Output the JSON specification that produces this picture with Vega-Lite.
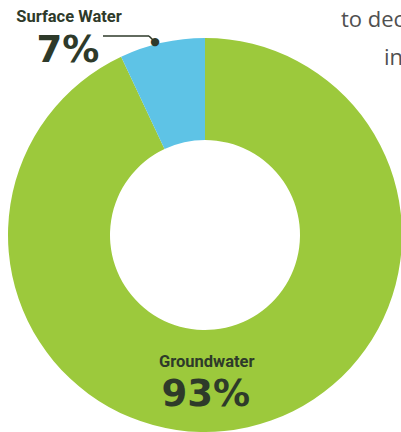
{
  "$schema": "https://vega.github.io/schema/vega-lite/v6.json",
  "width": 394,
  "height": 394,
  "autosize": {"type": "none"},
  "padding": {"left": 8, "top": 38, "right": 0, "bottom": 0},
  "background": "white",
  "view": {"stroke": null},
  "data": {"values": [
    {"source": "Groundwater", "share": 93, "label": "93%"},
    {"source": "Surface Water", "share": 7, "label": "7%"}
  ]},
  "layer": [
    {
      "mark": {"type": "arc", "outerRadius": 197, "innerRadius": 95},
      "encoding": {
        "theta": {"field": "share", "type": "quantitative", "stack": true},
        "order": {"field": "source", "sort": "ascending"},
        "color": {"field": "source", "type": "nominal", "legend": null,
          "scale": {"domain": ["Groundwater", "Surface Water"], "range": ["#9CC93C", "#5EC3E6"]}}
      }
    },
    {
      "data": {"values": [{}]},
      "mark": {"type": "rule", "color": "#2E3A2A", "strokeWidth": 1.5},
      "encoding": {"x": {"value": 95}, "x2": {"value": 141}, "y": {"value": -2}, "y2": {"value": -2}}
    },
    {
      "data": {"values": [{}]},
      "mark": {"type": "rule", "color": "#2E3A2A", "strokeWidth": 1.5},
      "encoding": {"x": {"value": 141}, "x2": {"value": 147}, "y": {"value": -2}, "y2": {"value": 4}}
    },
    {
      "mark": {"type": "text", "radius": 197, "font": "DejaVu Sans", "fontSize": 11, "color": "#2E3A2A", "align": "center", "baseline": "middle", "dx": -7, "dy": -1},
      "encoding": {
        "theta": {"field": "share", "type": "quantitative", "stack": true},
        "order": {"field": "source", "sort": "ascending"},
        "text": {"condition": {"test": "datum.source === 'Surface Water'", "value": "●"}, "value": ""}
      }
    },
    {
      "mark": {"type": "text", "radius": 197, "font": "Roboto", "fontWeight": "bold", "fontSize": 16.5, "color": "#2E3A2A", "align": "center", "baseline": "alphabetic", "dx": -93, "dy": -21},
      "encoding": {
        "theta": {"field": "share", "type": "quantitative", "stack": true},
        "order": {"field": "source", "sort": "ascending"},
        "text": {"condition": {"test": "datum.source === 'Surface Water'", "field": "source"}, "value": ""}
      }
    },
    {
      "mark": {"type": "text", "radius": 197, "font": "DejaVu Sans", "fontWeight": "bold", "fontSize": 37, "color": "#2E3A2A", "align": "center", "baseline": "alphabetic", "dx": -94, "dy": 19},
      "encoding": {
        "theta": {"field": "share", "type": "quantitative", "stack": true},
        "order": {"field": "source", "sort": "ascending"},
        "text": {"condition": {"test": "datum.source === 'Surface Water'", "field": "label"}, "value": ""}
      }
    },
    {
      "mark": {"type": "text", "radius": 150, "font": "Roboto", "fontWeight": "bold", "fontSize": 16.5, "color": "#2E3A2A", "align": "center", "baseline": "alphabetic", "dx": -31, "dy": -14},
      "encoding": {
        "theta": {"field": "share", "type": "quantitative", "stack": true},
        "order": {"field": "source", "sort": "ascending"},
        "text": {"condition": {"test": "datum.source === 'Groundwater'", "field": "source"}, "value": ""}
      }
    },
    {
      "mark": {"type": "text", "radius": 150, "font": "DejaVu Sans", "fontWeight": "bold", "fontSize": 37, "color": "#2E3A2A", "align": "center", "baseline": "alphabetic", "dx": -32, "dy": 25},
      "encoding": {
        "theta": {"field": "share", "type": "quantitative", "stack": true},
        "order": {"field": "source", "sort": "ascending"},
        "text": {"condition": {"test": "datum.source === 'Groundwater'", "field": "label"}, "value": ""}
      }
    },
    {
      "data": {"values": [{"t": "to dec"}]},
      "mark": {"type": "text", "x": 333, "y": -11, "align": "left", "baseline": "alphabetic", "font": "Open Sans", "fontSize": 22, "color": "#505050"},
      "encoding": {"text": {"field": "t"}}
    },
    {
      "data": {"values": [{"t": "in"}]},
      "mark": {"type": "text", "x": 376, "y": 27, "align": "left", "baseline": "alphabetic", "font": "Open Sans", "fontSize": 22, "color": "#505050"},
      "encoding": {"text": {"field": "t"}}
    }
  ]
}
